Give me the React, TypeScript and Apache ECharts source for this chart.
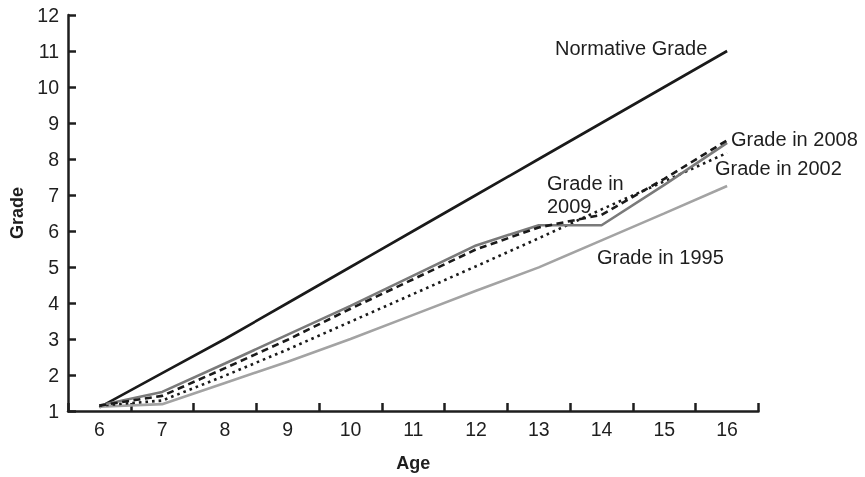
import React, { useEffect, useRef } from "react";
import * as echarts from "echarts";

const ages = ["6", "7", "8", "9", "10", "11", "12", "13", "14", "15", "16"];
const yTicks = [1, 12, 1]; // min, max, interval
const normative = [1.1, 2.05, 3, 4, 5, 6, 7, 8, 9, 10, 11];
const grade2009 = [1.15, 1.53, 2.32, 3.12, 3.92, 4.76, 5.6, 6.16, 6.16, 7.28, 8.45];
const grade2008 = [1.15, 1.42, 2.19, 2.98, 3.84, 4.66, 5.49, 6.1, 6.45, 7.45, 8.52];
const grade2002 = [1.15, 1.29, 1.98, 2.71, 3.48, 4.25, 5.02, 5.8, 6.6, 7.38, 8.17];
const grade1995 = [1.12, 1.19, 1.78, 2.37, 3.0, 3.67, 4.34, 4.99, 5.74, 6.49, 7.25];
const labelTexts = {
  normative: "Normative Grade",
  g2008: "Grade in 2008",
  g2002: "Grade in 2002",
  g2009: "Grade in\n2009",
  g1995: "Grade in 1995",
};

const FONT = "Liberation Sans, Arial, Helvetica, sans-serif";
const INK = "#1e1e1e";

export default function App() {
  const ref = useRef<HTMLDivElement>(null);
  useEffect(() => {
    if (!ref.current) return;
    const chart = echarts.init(ref.current, undefined, { renderer: "svg" });
    const textStyle = (text: string, x: number, y: number, align = "left") => ({
      type: "text",
      x,
      y,
      style: {
        text,
        fill: INK,
        font: `20px ${FONT}`,
        align,
        verticalAlign: "middle",
        lineHeight: 23,
      },
    });
    const lineSeries = (name: string, data: number[], color: string, type: any, z: number) => ({
      name,
      type: "line",
      data,
      symbol: "none",
      z,
      lineStyle: { color, width: 2.6, type },
    });
    chart.setOption({
      animation: false,
      textStyle: { fontFamily: FONT },
      grid: { left: 66.5, right: 106.5, top: 15, bottom: 65, containLabel: false },
      xAxis: {
        type: "category",
        data: ages,
        boundaryGap: true,
        name: "Age",
        nameLocation: "middle",
        nameGap: 43,
        nameTextStyle: { fontFamily: FONT, fontSize: 18, fontWeight: "bold", color: INK },
        axisLine: { lineStyle: { color: INK, width: 2.5 } },
        axisTick: {
          show: true,
          interval: 0,
          inside: true,
          length: 8,
          lineStyle: { color: INK, width: 2.5 },
        },
        axisLabel: { fontFamily: FONT, fontSize: 19.5, color: INK, margin: 8, interval: 0 },
        splitLine: { show: false },
      },
      yAxis: {
        type: "value",
        min: yTicks[0],
        max: yTicks[1],
        interval: yTicks[2],
        name: "Grade",
        nameLocation: "middle",
        nameGap: 42,
        nameRotate: 90,
        nameTextStyle: { fontFamily: FONT, fontSize: 18, fontWeight: "bold", color: INK },
        axisLine: { show: true, lineStyle: { color: INK, width: 2.5 } },
        axisTick: { show: true, inside: true, length: 8, lineStyle: { color: INK, width: 2.5 } },
        axisLabel: { fontFamily: FONT, fontSize: 19.5, color: INK, margin: 9 },
        splitLine: { show: false },
      },
      series: [
        lineSeries("Normative Grade", normative, "#1a1a1a", "solid", 2),
        lineSeries("Grade in 1995", grade1995, "#a3a3a3", "solid", 2),
        lineSeries("Grade in 2002", grade2002, "#1a1a1a", [2.6, 4], 3),
        lineSeries("Grade in 2009", grade2009, "#7a7a7a", "solid", 4),
        lineSeries("Grade in 2008", grade2008, "#1a1a1a", [7, 4.5], 5),
      ],
      graphic: [
        textStyle(labelTexts.normative, 555, 48),
        textStyle(labelTexts.g2008, 731, 139),
        textStyle(labelTexts.g2002, 715, 168),
        textStyle(labelTexts.g2009, 547, 194),
        textStyle(labelTexts.g1995, 597, 257),
      ],
    });
    return () => chart.dispose();
  }, []);
  return (
    <div
      ref={ref}
      style={{ position: "fixed", left: 0, top: 0, width: 865, height: 477 }}
    />
  );
}
